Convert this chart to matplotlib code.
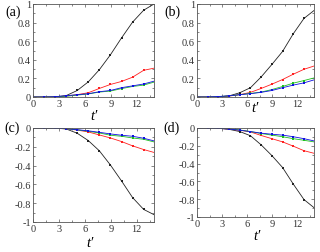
import numpy as np
import matplotlib
matplotlib.use("Agg")
import matplotlib.pyplot as plt
from matplotlib.ticker import MultipleLocator, FuncFormatter

plt.rcParams['font.family'] = ['Liberation Serif', 'DejaVu Serif']
plt.rcParams['axes.unicode_minus'] = False

# time grid: t=0, markers at 1.28*k, curve end at 14
t = [0, 1.28, 2.56, 3.84, 5.12, 6.4, 7.68, 8.96, 10.24, 11.52, 12.8, 14.0]

# panel (a)
a_black = [0, 0, 0.002, 0.015, 0.07, 0.163, 0.294, 0.454, 0.635, 0.805, 0.933, 1.0]
a_red = [0, 0, 0.002, 0.01, 0.025, 0.046, 0.092, 0.135, 0.167, 0.213, 0.287, 0.31]
a_green = [0, 0, 0.002, 0.008, 0.02, 0.033, 0.053, 0.064, 0.09, 0.113, 0.128, 0.16]
a_blue = [0, 0, 0.003, 0.014, 0.025, 0.035, 0.057, 0.07, 0.1, 0.12, 0.14, 0.17]

# panel (b)
b_black = [0, 0, 0.002, 0.012, 0.046, 0.1, 0.216, 0.35, 0.49, 0.68, 0.845, 0.93]
b_red = [0, 0, 0.002, 0.01, 0.025, 0.05, 0.092, 0.138, 0.188, 0.245, 0.298, 0.333]
b_green = [0, 0, 0.004, 0.012, 0.025, 0.038, 0.053, 0.08, 0.113, 0.149, 0.177, 0.205]
b_blue = [0, 0, 0.005, 0.013, 0.025, 0.036, 0.05, 0.07, 0.1, 0.128, 0.152, 0.184]

# panel (c)
c_black = [0, 0, -0.002, -0.01, -0.056, -0.134, -0.243, -0.394, -0.563, -0.74, -0.866, -0.922]
c_red = [0, 0, -0.002, -0.008, -0.022, -0.042, -0.074, -0.106, -0.144, -0.19, -0.229, -0.26]
c_green = [0, 0, -0.002, -0.008, -0.02, -0.035, -0.053, -0.077, -0.088, -0.106, -0.12, -0.148]
c_blue = [0, 0, -0.002, -0.007, -0.018, -0.03, -0.046, -0.063, -0.077, -0.088, -0.109, -0.137]

# panel (d)
d_black = [0, 0, -0.003, -0.015, -0.04, -0.087, -0.19, -0.31, -0.444, -0.63, -0.804, -0.895]
d_red = [0, 0, -0.003, -0.012, -0.025, -0.044, -0.084, -0.12, -0.156, -0.204, -0.255, -0.284]
d_green = [0, 0, -0.003, -0.01, -0.022, -0.04, -0.062, -0.08, -0.098, -0.12, -0.138, -0.156]
d_blue = [0, 0, -0.004, -0.012, -0.025, -0.04, -0.058, -0.07, -0.08, -0.098, -0.12, -0.145]

panels = [
    ('(a)', [a_black, a_red, a_green, a_blue], (0, 1)),
    ('(b)', [b_black, b_red, b_green, b_blue], (0, 1)),
    ('(c)', [c_black, c_red, c_green, c_blue], (-1, 0)),
    ('(d)', [d_black, d_red, d_green, d_blue], (-1, 0)),
]
colors = ['#222222', '#ff2020', '#20c020', '#1010e0']

W, H = 320, 253
fig = plt.figure(figsize=(W / 100, H / 100), dpi=100)

# axes boxes in pixels: left, right, top, bottom
boxes = [(33, 154, 5, 98), (197, 314, 5, 98), (33, 154, 129, 223), (197, 314, 129, 218)]
label_pos = [(13, 12), (172, 12), (12, 128), (172, 128)]
tlabel_pos = [(94, 117), (255, 109), (90, 244), (257, 236)]


def fmt(v, pos):
    if abs(v) < 1e-9:
        return '0'
    return '%g' % round(v, 2)


for (lab, series, ylim), (l, r, tp, bt), lp, tl in zip(panels, boxes, label_pos, tlabel_pos):
    ax = fig.add_axes([l / W, (H - bt) / H, (r - l) / W, (bt - tp) / H])
    for ys, c in zip(series, colors):
        ax.plot(t, ys, color=c, lw=0.6, marker='s', ms=1.8, mew=0,
                markevery=slice(1, 11))
    ax.set_xlim(0, 14)
    ax.set_ylim(*ylim)
    ax.xaxis.set_major_locator(MultipleLocator(3))
    ax.xaxis.set_minor_locator(MultipleLocator(1.5))
    ax.yaxis.set_major_locator(MultipleLocator(0.2))
    ax.yaxis.set_minor_locator(MultipleLocator(0.1))
    ax.yaxis.set_major_formatter(FuncFormatter(fmt))
    ax.tick_params(which='both', direction='in', top=True, right=True,
                   labelsize=7.5, pad=1.5, width=0.5, color='#555555',
                   labelcolor='#333333')
    ax.tick_params(which='major', length=2.5)
    ax.tick_params(which='minor', length=1.5)
    for sp in ax.spines.values():
        sp.set_linewidth(0.6)
        sp.set_color('#555555')
    fig.text(lp[0] / W, 1 - lp[1] / H, lab, fontsize=10, ha='center', va='center')
    fig.text(tl[0] / W, 1 - tl[1] / H, "t\u2032", fontsize=10.5, style='italic',
             ha='center', va='center')

fig.savefig('out.png', dpi=100)
